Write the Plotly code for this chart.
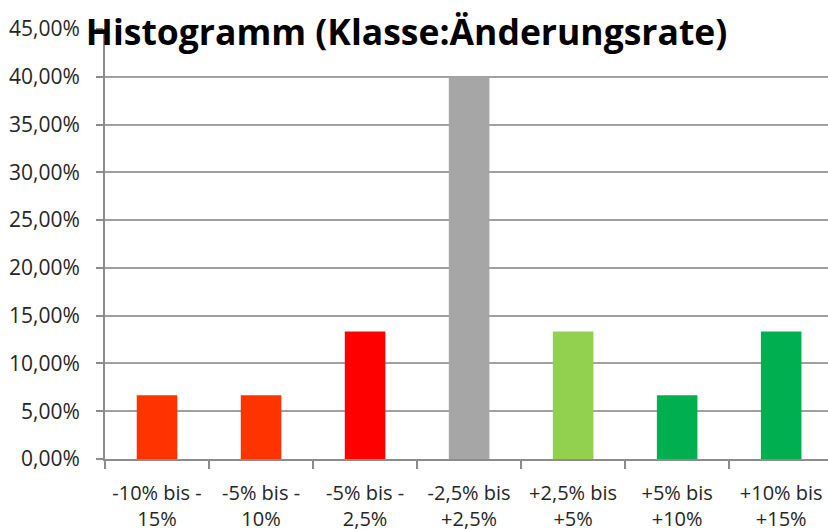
import plotly.graph_objects as go

categories = ["-10% bis -<br>15%", "-5% bis -<br>10%", "-5% bis -<br>2,5%", "-2,5% bis<br>+2,5%",
              "+2,5% bis<br>+5%", "+5% bis<br>+10%", "+10% bis<br>+15%"]
values = [0.0667, 0.0667, 0.1333, 0.40, 0.1333, 0.0667, 0.1333]
colors = ["#FF3300", "#FF3300", "#FF0000", "#A6A6A6", "#92D050", "#00B050", "#00B050"]
y_ticks = [0, 0.05, 0.10, 0.15, 0.20, 0.25, 0.30, 0.35, 0.40, 0.45]

fig = go.Figure()
fig.add_trace(go.Bar(x=list(range(len(categories))), y=values, marker=dict(color=colors, line=dict(width=0)),
                     width=0.39))

fig.update_layout(
    width=828, height=529,
    margin=dict(l=105, r=0, t=29, b=70),
    paper_bgcolor="white", plot_bgcolor="white",
    separators=",.",
    showlegend=False,
    font=dict(family="Open Sans", color="#262626", size=20),
    title=dict(text="<b>Histogramm (Klasse:Änderungsrate)</b>", x=0.491, xanchor="center",
               y=1 - 33 / 529, yanchor="middle", font=dict(family="Open Sans", size=35.5, color="black")),
)
fig.update_xaxes(
    range=[-0.5, 6.45], tickmode="array", tickvals=list(range(len(categories))), ticktext=categories,
    showline=True, linecolor="#8C8C8C", linewidth=2, showgrid=False,
    ticks="", zeroline=False, automargin=False, ticklabelstandoff=15,
)
# category boundary tick marks
fig.update_xaxes(minor=dict(tickmode="array", tickvals=[i - 0.5 for i in range(len(categories) + 1)],
                            ticks="outside", ticklen=8, tickwidth=2, tickcolor="#8C8C8C", showgrid=False))
fig.update_yaxes(
    range=[0, 0.45], tickmode="array", tickvals=y_ticks, tickformat=".2%",
    showline=True, linecolor="#8C8C8C", linewidth=2,
    showgrid=True, gridcolor="#A0A0A0", gridwidth=2,
    ticks="outside", ticklen=7, tickwidth=2, tickcolor="#8C8C8C",
    zeroline=False, automargin=False, ticklabelstandoff=12, tickfont=dict(size=21),
)
fig.write_html("out.html", config={"displayModeBar": False},
               post_script="document.body.style.margin='0';")
